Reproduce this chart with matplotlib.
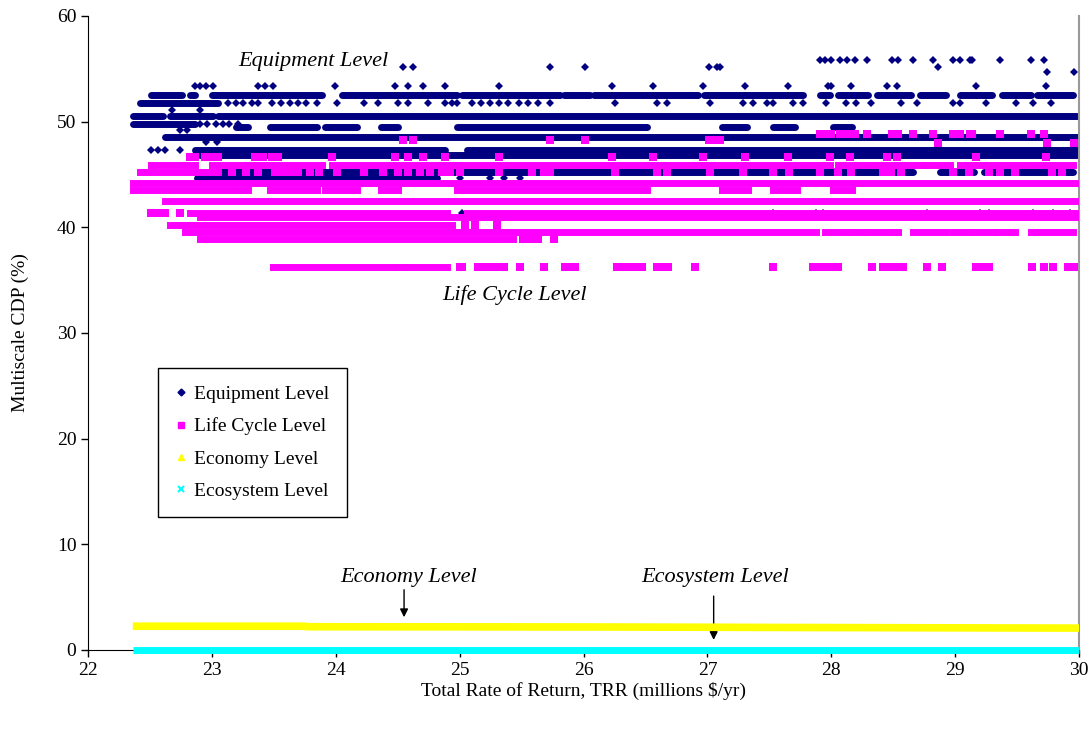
import matplotlib.pyplot as plt
from matplotlib.lines import Line2D

plt.rcParams['font.family'] = ['Liberation Serif', 'DejaVu Serif']

navy = '#000080'
pink = '#FF00FF'
yellow = '#FFFF00'
cyan = '#00FFFF'

# dense rows of points: (CDP %, TRR from, TRR to)
equip_bands = [
    (52.5, 22.51, 22.76), (52.5, 22.82, 22.86), (52.5, 23.00, 23.89), (52.5, 24.05, 24.98),
    (52.5, 25.02, 25.81), (52.5, 25.84, 26.05), (52.5, 26.08, 26.92), (52.5, 26.97, 27.77),
    (52.5, 27.91, 27.99), (52.5, 28.05, 28.30), (52.5, 28.37, 28.64), (52.5, 28.72, 28.93),
    (52.5, 29.04, 29.30), (52.5, 29.38, 29.61), (52.5, 29.66, 29.95),
    (51.8, 22.42, 23.05),
    (50.5, 22.36, 22.60), (50.5, 22.66, 23.01), (50.5, 23.05, 29.98),
    (49.8, 22.36, 22.86),
    (49.5, 23.19, 23.29), (49.5, 23.47, 23.85), (49.5, 23.91, 24.17), (49.5, 24.36, 24.50),
    (49.5, 24.98, 26.51), (49.5, 27.12, 27.32), (49.5, 27.53, 27.71), (49.5, 28.01, 28.17),
    (48.5, 22.62, 22.86), (48.5, 22.88, 30.0),
    (47.3, 22.86, 24.88), (47.3, 25.06, 30.0),
    (46.8, 22.90, 30.0),
    (45.2, 23.05, 28.66), (45.2, 28.88, 29.15), (45.2, 29.23, 29.95),
    (44.7, 22.88, 24.82),
]

# single points: (CDP %, [TRR values])
equip_dots = [
    (55.8, [27.91, 27.95, 28.00, 28.07, 28.13, 28.19, 28.29, 28.49, 28.54, 28.66,
            28.82, 28.98, 29.04, 29.12, 29.14, 29.36, 29.61, 29.72]),
    (55.2, [24.54, 24.62, 25.73, 26.01, 27.01, 27.08, 27.10, 28.86]),
    (54.7, [29.74, 29.96]),
    (53.4, [22.86, 22.90, 22.95, 23.01, 23.37, 23.43, 23.49, 23.99, 24.48, 24.58,
            24.70, 24.88, 25.32, 26.23, 26.56, 26.96, 27.30, 27.65, 27.97, 28.00,
            28.16, 28.45, 28.53, 29.17, 29.73]),
    (51.8, [23.13, 23.19, 23.25, 23.32, 23.37, 23.48, 23.56, 23.63, 23.69, 23.76,
            23.85, 24.01, 24.23, 24.34, 24.50, 24.58, 24.74, 24.88, 24.94, 24.98,
            25.10, 25.17, 25.24, 25.32, 25.39, 25.48, 25.55, 25.63, 25.73, 26.25,
            26.59, 26.67, 27.02, 27.29, 27.37, 27.48, 27.53, 27.69, 27.77, 27.96,
            28.12, 28.20, 28.32, 28.56, 28.69, 28.98, 29.04, 29.25, 29.49, 29.63, 29.77]),
    (51.1, [22.68, 22.90]),
    (49.8, [22.90, 22.96, 23.03, 23.09, 23.14, 23.21]),
    (49.2, [22.74, 22.80]),
    (48.1, [22.95, 23.04]),
    (47.3, [22.51, 22.56, 22.62, 22.74]),
    (44.7, [25.00, 25.24, 25.36, 25.49]),
    (41.4, [25.02, 27.53, 27.88, 27.93, 28.77, 29.20, 29.27, 29.63, 29.79, 29.93]),
]

life_bands = [
    (45.9, 22.51, 22.78), (45.9, 22.82, 22.86), (45.9, 23.00, 23.89), (45.9, 23.97, 24.01),
    (45.9, 24.05, 24.98), (45.9, 25.02, 26.05), (45.9, 26.08, 26.92), (45.9, 26.96, 27.77),
    (45.9, 27.81, 27.87), (45.9, 27.89, 27.99), (45.9, 28.05, 28.30), (45.9, 28.34, 28.64),
    (45.9, 28.69, 28.74), (45.9, 28.76, 28.86), (45.9, 28.90, 28.96), (45.9, 29.04, 29.32),
    (45.9, 29.36, 29.41), (45.9, 29.44, 29.48), (45.9, 29.52, 29.62), (45.9, 29.66, 29.73),
    (45.9, 29.75, 29.95),
    (45.2, 22.42, 23.05),
    (44.2, 22.36, 29.98),
    (43.5, 22.36, 23.16), (43.5, 23.19, 23.29), (43.5, 23.47, 23.85), (43.5, 23.91, 24.17),
    (43.5, 24.36, 24.50), (43.5, 24.98, 26.51), (43.5, 27.12, 27.33), (43.5, 27.53, 27.72),
    (43.5, 28.01, 28.17),
    (42.5, 22.62, 30.0),
    (41.4, 22.82, 24.90), (41.4, 25.06, 30.0),
    (41.0, 22.90, 30.0),
    (40.2, 22.66, 24.94),
    (39.6, 22.78, 27.88), (39.6, 27.95, 28.13), (39.6, 28.15, 28.26), (39.6, 28.29, 28.48),
    (39.6, 28.50, 28.54), (39.6, 28.66, 28.93), (39.6, 28.98, 29.12), (39.6, 29.15, 29.31),
    (39.6, 29.33, 29.38), (39.6, 29.43, 29.48), (39.6, 29.61, 29.95),
    (38.9, 22.90, 25.27), (38.9, 25.30, 25.43),
    (36.2, 23.49, 24.46), (36.2, 24.50, 24.56), (36.2, 24.58, 24.90),
]

life_dots = [
    (48.8, [27.91, 27.95, 28.00, 28.07, 28.13, 28.19, 28.29, 28.49, 28.54, 28.66,
            28.82, 28.98, 29.04, 29.12, 29.14, 29.36, 29.61, 29.72]),
    (48.3, [24.54, 24.62, 25.73, 26.01, 27.01, 27.08, 27.10]),
    (48.0, [28.86, 29.74, 29.96]),
    (46.7, [22.82, 22.86, 22.94, 23.00, 23.05, 23.35, 23.41, 23.48, 23.53, 23.97,
            24.48, 24.58, 24.70, 24.88, 25.32, 26.23, 26.56, 26.96, 27.30, 27.65,
            27.99, 28.15, 28.45, 28.53, 29.17, 29.73]),
    (45.2, [23.16, 23.27, 23.37, 23.51, 23.57, 23.63, 23.69, 23.79, 23.86, 24.01,
            24.23, 24.38, 24.50, 24.58, 24.68, 24.76, 24.86, 24.92, 25.00, 25.32,
            25.58, 25.68, 25.73, 26.25, 26.59, 26.67, 27.02, 27.29, 27.53, 27.66,
            27.91, 28.05, 28.16, 28.42, 28.48, 28.56, 28.98, 29.11, 29.27, 29.36,
            29.48, 29.78, 29.86]),
    (41.4, [22.51, 22.56, 22.62, 22.74]),
    (40.2, [25.04, 25.12, 25.30]),
    (38.9, [25.51, 25.57, 25.63, 25.76]),
    (36.2, [25.00, 25.02, 25.15, 25.21, 25.26, 25.32, 25.36, 25.49, 25.68, 25.85,
            25.89, 25.93, 26.27, 26.31, 26.36, 26.41, 26.47, 26.59, 26.63, 26.68,
            26.90, 27.53, 27.85, 27.90, 27.95, 27.99, 28.05, 28.33, 28.42, 28.47,
            28.53, 28.58, 28.77, 28.89, 29.17, 29.22, 29.27, 29.62, 29.72, 29.79,
            29.91, 29.96]),
]

econ_x = [22.36, 23.75, 23.76, 26.0, 28.0, 30.0]
econ_y = [2.25, 2.25, 2.2, 2.18, 2.12, 2.07]
eco_x = [22.36, 30.0]
eco_y = [0.0, 0.0]

fig = plt.figure(figsize=(10.91, 7.29), dpi=100)
ax = fig.add_axes([0.0809, 0.1084, 0.9081, 0.8697])


def draw_bands(bands, color, cap, z):
    ys = [b[0] for b in bands]
    x0 = [b[1] for b in bands]
    x1 = [b[2] for b in bands]
    lc = ax.hlines(ys, x0, x1, colors=color, lw=5, zorder=z)
    lc.set_capstyle(cap)


def draw_dots(dots, marker, color, size, z):
    for y, xs in dots:
        ax.plot(xs, [y] * len(xs), ls='none', marker=marker, ms=size,
                color=color, mew=0, zorder=z)


draw_bands(equip_bands, navy, 'round', 2)
draw_dots(equip_dots, 'D', navy, 3.9, 2)
draw_bands(life_bands, pink, 'projecting', 3)
draw_dots(life_dots, 's', pink, 5.5, 3)
ax.plot(econ_x, econ_y, color=yellow, lw=5.5, solid_capstyle='butt', zorder=4)
ax.plot(eco_x, eco_y, color=cyan, lw=5, solid_capstyle='butt', zorder=5, clip_on=False)

ax.set_xlim(22, 30)
ax.set_ylim(0, 60)
ax.set_xticks(range(22, 31))
ax.set_yticks(range(0, 61, 10))
ax.tick_params(labelsize=14, direction='out', length=5, width=1)
ax.spines['top'].set_visible(False)
ax.spines['right'].set_color('#999999')
ax.spines['right'].set_linewidth(1.5)

ax.set_xlabel('Total Rate of Return, TRR (millions $/yr)', fontsize=14, labelpad=2)
ax.set_ylabel('Multiscale CDP (%)', fontsize=14, labelpad=20)

ax.text(23.82, 55.7, 'Equipment Level', style='italic', fontsize=16, ha='center', va='center')
ax.text(25.44, 33.6, 'Life Cycle Level', style='italic', fontsize=16, ha='center', va='center')
ax.text(24.59, 6.9, 'Economy Level', style='italic', fontsize=16, ha='center', va='center')
ax.text(27.06, 6.9, 'Ecosystem Level', style='italic', fontsize=16, ha='center', va='center')
arrow = dict(arrowstyle='-|>', color='black', lw=1, mutation_scale=12, shrinkA=0, shrinkB=0)
ax.annotate('', xy=(24.55, 3.1), xytext=(24.55, 5.7), arrowprops=arrow)
ax.annotate('', xy=(27.05, 0.95), xytext=(27.05, 5.1), arrowprops=arrow)

handles = [
    Line2D([], [], ls='none', marker='D', ms=3.5, color=navy),
    Line2D([], [], ls='none', marker='s', ms=4, color=pink),
    Line2D([], [], ls='none', marker='^', ms=4, color=yellow),
    Line2D([], [], ls='none', marker='x', ms=4, mew=1.5, color=cyan),
]
labels = ['Equipment Level', 'Life Cycle Level', 'Economy Level', 'Ecosystem Level']
leg = ax.legend(handles, labels, loc='upper left', bbox_to_anchor=(0.0704, 0.445),
                fontsize=14, frameon=True, fancybox=False, edgecolor='black',
                framealpha=1, handlelength=0.6, handletextpad=0.35,
                labelspacing=0.75, borderpad=0.9, borderaxespad=0)
leg.get_frame().set_linewidth(1)

fig.savefig('out.png', dpi=100)
